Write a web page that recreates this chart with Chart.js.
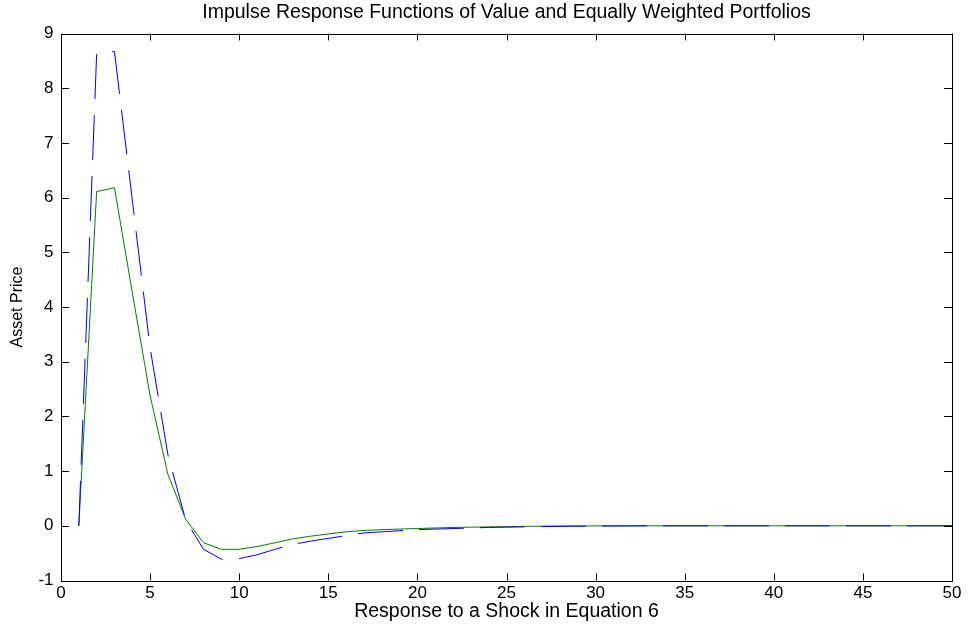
<!DOCTYPE html>
<html>
<head>
<meta charset="utf-8">
<title>Impulse Response Functions</title>
<script src="https://cdn.jsdelivr.net/npm/chart.js"></script>
<style>
  html, body { margin: 0; padding: 0; background: #fff; }
  #wrap { width: 968px; height: 628px; }
</style>
</head>
<body>
<div id="wrap"><canvas id="irfChart" width="968" height="628"></canvas></div>
<script>
// -------------------------------
// 1) DATA (read off the picture)
// -------------------------------

// Periods after the shock
const steps = [
  1, 2, 3, 4, 5, 6, 7, 8, 9, 10,
  11, 12, 13, 14, 15, 16, 17, 18, 19, 20,
  21, 22, 23, 24, 25, 26, 27, 28, 29, 30,
  31, 32, 33, 34, 35, 36, 37, 38, 39, 40,
  41, 42, 43, 44, 45, 46, 47, 48, 49, 50
];

// Blue dashed series
const valueWeighted = [
  0, 8.63, 8.67, 5.96, 3.25, 1.30, 0.10, -0.43, -0.61, -0.60,
  -0.53, -0.43, -0.34, -0.28, -0.23, -0.18, -0.13, -0.11, -0.09, -0.07,
  -0.06, -0.05, -0.04, -0.03, -0.025, -0.02, -0.015, -0.01, -0.007, -0.005,
  -0.003, -0.002, -0.001, 0, 0, 0, 0, 0, 0, 0,
  0, 0, 0, 0, 0, 0, 0, 0, 0, 0
];

// Green solid series
const equallyWeighted = [
  0, 6.11, 6.18, 4.27, 2.38, 0.94, 0.12, -0.31, -0.43, -0.43,
  -0.38, -0.31, -0.24, -0.19, -0.15, -0.11, -0.085, -0.07, -0.06, -0.05,
  -0.04, -0.03, -0.025, -0.02, -0.015, -0.01, -0.007, -0.005, -0.003, -0.002,
  -0.001, 0, 0, 0, 0, 0, 0, 0, 0, 0,
  0, 0, 0, 0, 0, 0, 0, 0, 0, 0
];

// Axis ticks
const xTicks = [0, 5, 10, 15, 20, 25, 30, 35, 40, 45, 50];
const yTicks = [-1, 0, 1, 2, 3, 4, 5, 6, 7, 8, 9];

const FONT = "'Liberation Sans', Arial, Helvetica, sans-serif";

// -------------------------------
// 2) Box + inward tick marks (MATLAB style)
// -------------------------------
const boxPlugin = {
  id: "matlabBox",
  afterDraw(chart) {
    const { ctx, chartArea: a, scales } = chart;
    ctx.save();
    ctx.strokeStyle = "#000";
    ctx.lineWidth = 1;
    ctx.beginPath();

    xTicks.forEach(v => {
      const px = Math.round(scales.x.getPixelForValue(v)) + 0.5;
      ctx.moveTo(px, a.bottom); ctx.lineTo(px, a.bottom - 7);
      ctx.moveTo(px, a.top); ctx.lineTo(px, a.top + 7);
    });
    yTicks.forEach(v => {
      const py = Math.round(scales.y.getPixelForValue(v)) + 0.5;
      ctx.moveTo(a.left, py); ctx.lineTo(a.left + 8, py);
      ctx.moveTo(a.right, py); ctx.lineTo(a.right - 8, py);
    });
    ctx.stroke();

    ctx.strokeRect(Math.round(a.left) + 0.5, Math.round(a.top) + 0.5,
      Math.round(a.right - a.left), Math.round(a.bottom - a.top));
    ctx.restore();
  }
};

// -------------------------------
// 3) CHART
// -------------------------------
function renderChart() {
  const canvas = document.getElementById("irfChart");
  const ctx = canvas.getContext("2d");

  new Chart(ctx, {
    type: "line",
    data: {
      datasets: [
        {
          label: "Value weighted",
          data: steps.map((s, i) => ({ x: s, y: valueWeighted[i] })),
          borderColor: "#0000ff",
          borderWidth: 1,
          borderDash: [45, 16],
          pointRadius: 0,
          tension: 0,
          fill: false
        },
        {
          label: "Equally weighted",
          data: steps.map((s, i) => ({ x: s, y: equallyWeighted[i] })),
          borderColor: "#008000",
          borderWidth: 1,
          pointRadius: 0,
          tension: 0,
          fill: false
        }
      ]
    },
    options: {
      responsive: false,
      animation: false,
      devicePixelRatio: 1,
      layout: { padding: { left: 0, right: 16, top: 0, bottom: 0 } },
      plugins: {
        legend: { display: false },
        tooltip: { enabled: false },
        title: {
          display: true,
          fullSize: false, // center over the plot box, like MATLAB
          text: "Impulse Response Functions of Value and Equally Weighted Portfolios",
          color: "#000",
          font: { family: FONT, size: 19.5, weight: "normal", lineHeight: 1.2 },
          padding: { top: 1, bottom: 9.1 }
        }
      },
      scales: {
        x: {
          type: "linear",
          min: 0,
          max: 50,
          grid: { display: false, drawTicks: false },
          border: { display: false },
          afterBuildTicks: s => { s.ticks = xTicks.map(v => ({ value: v })); },
          afterFit: s => { s.height = 47.5; },
          ticks: {
            color: "#000",
            font: { family: FONT, size: 17 },
            padding: 3,
            maxRotation: 0,
            autoSkip: false
          },
          title: {
            display: true,
            text: "Response to a Shock in Equation 6",
            color: "#000",
            font: { family: FONT, size: 19.5, lineHeight: 1.2 },
            padding: { top: 0, bottom: 4.3 }
          }
        },
        y: {
          min: -1,
          max: 9,
          grid: { display: false, drawTicks: false },
          border: { display: false },
          afterBuildTicks: s => { s.ticks = yTicks.map(v => ({ value: v })); },
          afterFit: s => { s.width = 61; },
          ticks: {
            color: "#000",
            font: { family: FONT, size: 17 },
            padding: 7.5,
            autoSkip: false
          },
          title: {
            display: true,
            text: "Asset Price",
            color: "#000",
            font: { family: FONT, size: 16, lineHeight: 1.2 },
            padding: { top: 8.4, bottom: 0 }
          }
        }
      }
    },
    plugins: [boxPlugin]
  });
}

document.addEventListener("DOMContentLoaded", renderChart);
</script>
</body>
</html>
